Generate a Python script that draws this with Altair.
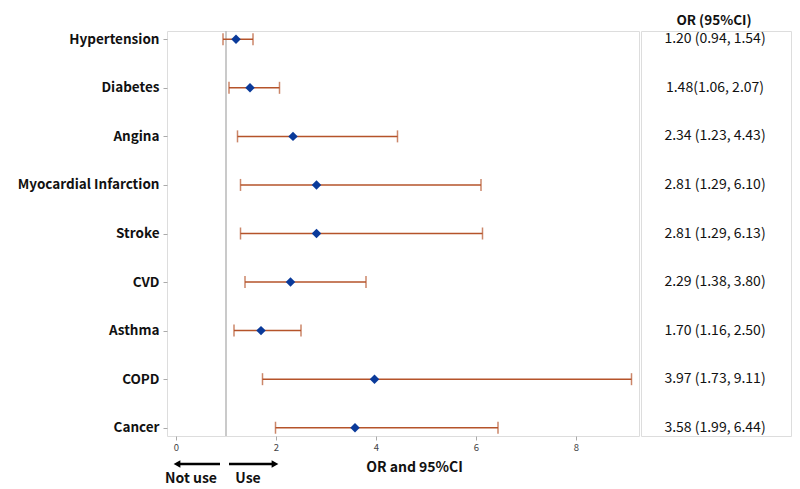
import altair as alt
import pandas as pd

conditions = ["Hypertension", "Diabetes", "Angina", "Myocardial Infarction", "Stroke",
              "CVD", "Asthma", "COPD", "Cancer"]
or_values = [1.20, 1.48, 2.34, 2.81, 2.81, 2.29, 1.70, 3.97, 3.58]
ci_low = [0.94, 1.06, 1.23, 1.29, 1.29, 1.38, 1.16, 1.73, 1.99]
ci_high = [1.54, 2.07, 4.43, 6.10, 6.13, 3.80, 2.50, 9.11, 6.44]
labels = ["1.20 (0.94, 1.54)", "1.48(1.06, 2.07)", "2.34 (1.23, 4.43)", "2.81 (1.29, 6.10)",
          "2.81 (1.29, 6.13)", "2.29 (1.38, 3.80)", "1.70 (1.16, 2.50)", "3.97 (1.73, 9.11)",
          "3.58 (1.99, 6.44)"]
x_ticks = [0, 2, 4, 6, 8]
ref_value = 1

# direction annotation below the axis
arrow_starts = [0.88, 1.06]
arrow_ends = [0.02, 1.98]
arrow_shapes = ["triangle-left", "triangle-right"]
dir_labels = ["Not use", "Use"]
dir_label_x = [0.3, 1.44]

FONT = "Noto Sans CJK JP"
ERR = "#b5532a"
MARK = "#0a3a9a"
GRAY = "#b8b8b8"

df = pd.DataFrame({"cond": conditions, "or": or_values, "lo": ci_low, "hi": ci_high, "txt": labels})
arrows = pd.DataFrame({"s": arrow_starts, "e": arrow_ends, "shape": arrow_shapes})
dirs = pd.DataFrame({"lab": dir_labels, "x": dir_label_x})

W, H = 472, 405
xscale = alt.Scale(domain=[-0.18, 9.26], nice=False, zero=False)
yscale = alt.Scale(type="point", domain=conditions, padding=0.17)

y_enc = alt.Y("cond:N", scale=yscale, title=None,
              axis=alt.Axis(labelFont=FONT, labelFontWeight="bold", labelFontSize=13.5,
                            labelColor="#111", domain=False, grid=False, tickSize=4,
                            tickColor="#aaa", labelPadding=4))
x_enc = alt.X("lo:Q", scale=xscale,
              axis=alt.Axis(values=x_ticks, format="d", labelFont=FONT, labelFontSize=9.5,
                            labelColor="#444", tickColor="#aaa", tickSize=4, domain=False,
                            grid=False, title="OR and 95%CI", titleFont=FONT,
                            titleFontSize=14, titleFontWeight="bold", titleColor="#111",
                            titlePadding=9, titleX=247))

base = alt.Chart(df)

ref = alt.Chart(pd.DataFrame({"r": [ref_value]})).mark_rule(color=GRAY, strokeWidth=1.5).encode(
    x=alt.X("r:Q", scale=xscale))
bars = base.mark_rule(color=ERR, strokeWidth=1.5).encode(x=x_enc, x2="hi:Q", y=y_enc)
cap_lo = base.mark_tick(color=ERR, orient="vertical", size=12, thickness=1.5).encode(
    x=alt.X("lo:Q", scale=xscale), y=alt.Y("cond:N", scale=yscale))
cap_hi = base.mark_tick(color=ERR, orient="vertical", size=12, thickness=1.5).encode(
    x=alt.X("hi:Q", scale=xscale), y=alt.Y("cond:N", scale=yscale))
pts = base.mark_point(shape="diamond", filled=True, size=90, color=MARK, opacity=1).encode(
    x=alt.X("or:Q", scale=xscale), y=alt.Y("cond:N", scale=yscale))

arr_line = alt.Chart(arrows).mark_rule(color="#000", strokeWidth=2.5).encode(
    x=alt.X("s:Q", scale=xscale), x2="e:Q", y=alt.value(H + 28))
arr_head = alt.Chart(arrows).mark_point(filled=True, size=60, color="#000", opacity=1).encode(
    x=alt.X("e:Q", scale=xscale), y=alt.value(H + 28), shape=alt.Shape("shape:N", scale=None))
dir_text = alt.Chart(dirs).mark_text(font=FONT, fontSize=14, fontWeight="bold", color="#111",
                                     baseline="middle").encode(
    x=alt.X("x:Q", scale=xscale), y=alt.value(H + 43), text="lab:N")

left = alt.layer(ref, bars, cap_lo, cap_hi, pts, arr_line, arr_head, dir_text).properties(
    width=W, height=H)

right_text = base.mark_text(font=FONT, fontSize=14, color="#111", align="center").encode(
    y=alt.Y("cond:N", scale=yscale, axis=None), x=alt.value(74), text="txt:N")
header = alt.Chart(pd.DataFrame({"h": ["OR (95%CI)"]})).mark_text(
    font=FONT, fontSize=13.5, fontWeight="bold", color="#111", align="center",
    baseline="top").encode(
    x=alt.value(73), y=alt.value(-17), text="h:N")
right = alt.layer(right_text, header).properties(width=150, height=H)

chart = alt.hconcat(left, right, spacing=0).properties(
    padding={"left": 8, "top": 5, "right": 0, "bottom": 0}
).configure_view(stroke=GRAY, strokeWidth=2).configure(background="white")

chart.save("out.html", embed_options={"renderer": "svg", "actions": False})
